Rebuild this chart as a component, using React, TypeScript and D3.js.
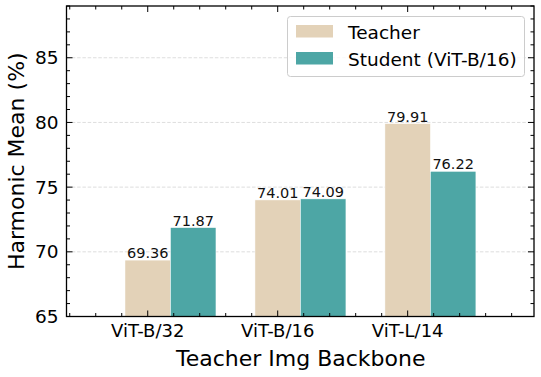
import { useEffect, useRef } from 'react';
import * as d3 from 'd3';

const categories = ['ViT-B/32', 'ViT-B/16', 'ViT-L/14'];
const teacherValues = [69.36, 74.01, 79.91];
const studentValues = [71.87, 74.09, 76.22];
const seriesNames = ['Teacher', 'Student (ViT-B/16)'];
const seriesColors = ['#e3d2b8', '#4da6a5'];
const yMajorTicks = [65, 70, 75, 80, 85];

const W = 541;
const H = 377;
const FONT = '"DejaVu Sans", sans-serif';

const App = () => {
  const svgRef = useRef(null);

  useEffect(() => {
    const svg = d3.select(svgRef.current);
    svg.selectAll('*').remove();

    const left = 66.5;
    const right = 534;
    const top = 6;
    const bottom = 316.5;
    const barW = 0.35;

    const x = d3.scaleLinear().domain([-0.625, 2.972]).range([left, right]);
    const y = d3.scaleLinear().domain([65, 89]).range([bottom, top]);

    // 格線
    svg
      .append('g')
      .selectAll('line')
      .data(yMajorTicks.filter((v) => v > 65))
      .join('line')
      .attr('x1', left)
      .attr('x2', right)
      .attr('y1', (d) => y(d))
      .attr('y2', (d) => y(d))
      .attr('stroke', '#d6d6d6')
      .attr('stroke-width', 0.8)
      .attr('stroke-dasharray', '3.5,1.8');

    // 長條
    const series = [teacherValues, studentValues];
    series.forEach((vals, s) => {
      const g = svg.append('g');
      g.selectAll('rect')
        .data(vals)
        .join('rect')
        .attr('x', (d, i) => x(i - barW / 2 + s * barW))
        .attr('width', x(barW) - x(0))
        .attr('y', (d) => y(d))
        .attr('height', (d) => y(65) - y(d))
        .attr('fill', seriesColors[s])
        .attr('stroke', 'white')
        .attr('stroke-width', 0.5);

      g.selectAll('text')
        .data(vals)
        .join('text')
        .attr('x', (d, i) => x(i + s * barW))
        .attr('y', (d) => y(d) - 2)
        .attr('text-anchor', 'middle')
        .style('font-family', FONT)
        .style('font-size', '14.5px')
        .attr('fill', '#111')
        .text((d) => d.toFixed(2));
    });

    // 刻度
    const ticks = svg.append('g').attr('stroke', 'black').attr('stroke-width', 1);
    const yMinor = d3.range(65, 90, 1);
    yMinor.forEach((v) => {
      const len = v % 5 === 0 ? 6 : 3.5;
      ticks.append('line').attr('x1', left).attr('x2', left + len).attr('y1', y(v)).attr('y2', y(v));
      ticks.append('line').attr('x1', right).attr('x2', right - len).attr('y1', y(v)).attr('y2', y(v));
    });
    const xMinor = d3.range(-3, 15).map((k) => k / 5);
    xMinor.forEach((v) => {
      const major = Math.abs(v - Math.round(v)) < 1e-6 && v >= 0 && v <= 2;
      const len = major ? 6 : 3.5;
      ticks.append('line').attr('x1', x(v)).attr('x2', x(v)).attr('y1', bottom).attr('y2', bottom - len);
      ticks.append('line').attr('x1', x(v)).attr('x2', x(v)).attr('y1', top).attr('y2', top + len);
    });

    // 外框
    svg
      .append('rect')
      .attr('x', left)
      .attr('y', top)
      .attr('width', right - left)
      .attr('height', bottom - top)
      .attr('fill', 'none')
      .attr('stroke', 'black')
      .attr('stroke-width', 1.3);

    // 刻度文字
    svg
      .append('g')
      .selectAll('text')
      .data(yMajorTicks)
      .join('text')
      .attr('x', left - 8)
      .attr('y', (d) => y(d))
      .attr('dy', '0.36em')
      .attr('text-anchor', 'end')
      .style('font-family', FONT)
      .style('font-size', '18.5px')
      .text((d) => d);

    svg
      .append('g')
      .selectAll('text')
      .data(categories)
      .join('text')
      .attr('x', (d, i) => x(i))
      .attr('y', 337)
      .attr('text-anchor', 'middle')
      .style('font-family', FONT)
      .style('font-size', '18px')
      .text((d) => d);

    // 軸標題
    svg
      .append('text')
      .attr('x', (left + right) / 2 + 0.5)
      .attr('y', 366)
      .attr('text-anchor', 'middle')
      .style('font-family', FONT)
      .style('font-size', '22px')
      .text('Teacher Img Backbone');

    svg
      .append('text')
      .attr('transform', `translate(24,${(top + bottom) / 2}) rotate(-90)`)
      .attr('text-anchor', 'middle')
      .style('font-family', FONT)
      .style('font-size', '22px')
      .text('Harmonic Mean (%)');

    // 圖例
    const lg = svg.append('g');
    lg.append('rect')
      .attr('x', 287.5)
      .attr('y', 16.5)
      .attr('width', 237)
      .attr('height', 60)
      .attr('rx', 3)
      .attr('fill', 'white')
      .attr('fill-opacity', 0.8)
      .attr('stroke', '#cccccc')
      .attr('stroke-width', 1);
    seriesNames.forEach((name, i) => {
      lg.append('rect')
        .attr('x', 296)
        .attr('y', 25 + i * 27)
        .attr('width', 37)
        .attr('height', 12.5)
        .attr('fill', seriesColors[i]);
      lg.append('text')
        .attr('x', 348)
        .attr('y', 38.5 + i * 27)
        .style('font-family', FONT)
        .style('font-size', '18.5px')
        .text(name);
    });
  }, []);

  return (
    <div style={{ position: 'fixed', left: 0, top: 0, width: W, height: H, background: 'white' }}>
      <svg ref={svgRef} width={W} height={H} style={{ display: 'block' }} />
    </div>
  );
};

export default App;
